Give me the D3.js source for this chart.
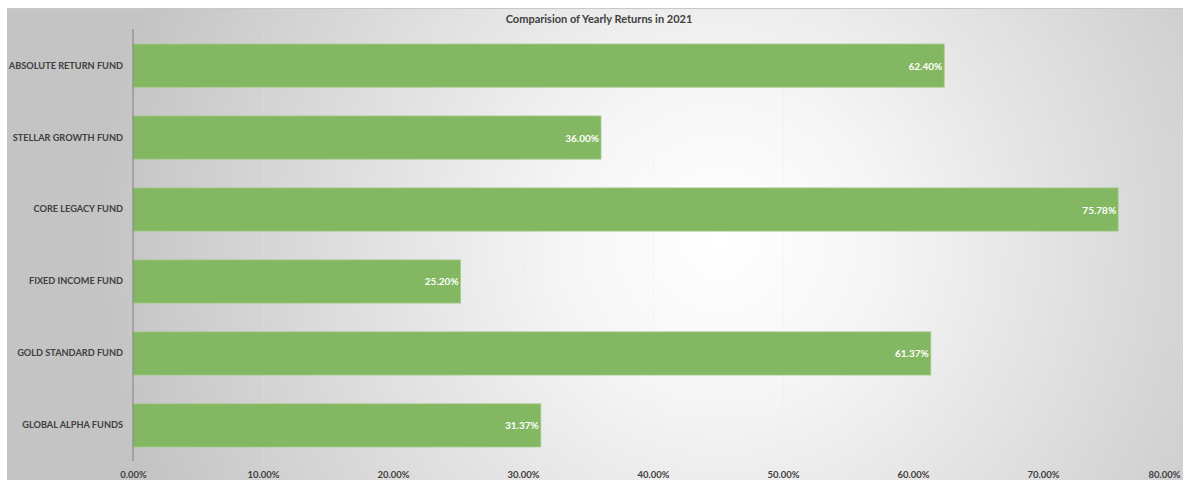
<!DOCTYPE html>
<html>
<head>
<meta charset="utf-8">
<script src="https://cdn.jsdelivr.net/npm/d3@7"></script>
<style>
  body { margin: 0; background: #fff; }
  text { font-family: Lato, "Open Sans", sans-serif; font-weight: bold; }
</style>
</head>
<body>
<div id="chart"></div>
<script>
const funds = ["ABSOLUTE RETURN FUND", "STELLAR GROWTH FUND", "CORE LEGACY FUND",
               "FIXED INCOME FUND", "GOLD STANDARD FUND", "GLOBAL ALPHA FUNDS"];
const returns = [62.40, 36.00, 75.78, 25.20, 61.37, 31.37];
const xTicks = [0, 10, 20, 30, 40, 50, 60, 70, 80];
const title = "Comparision of Yearly Returns in 2021";

const W = 1183, H = 480;

const svg = d3.select("#chart").append("svg")
    .attr("width", W)
    .attr("height", H);

// Background gradient like the spreadsheet chart area
const defs = svg.append("defs");
const grad = defs.append("radialGradient")
    .attr("id", "bg")
    .attr("gradientUnits", "userSpaceOnUse")
    .attr("cx", 720).attr("cy", 240).attr("r", 620);
grad.append("stop").attr("offset", "0%").attr("stop-color", "#ffffff");
grad.append("stop").attr("offset", "25%").attr("stop-color", "#f6f6f6");
grad.append("stop").attr("offset", "100%").attr("stop-color", "#c4c4c4");

svg.append("rect")
    .attr("x", 7).attr("y", 8)
    .attr("width", W - 7).attr("height", H - 8)
    .attr("fill", "url(#bg)");
svg.append("line")
    .attr("x1", 7).attr("x2", W)
    .attr("y1", 8.5).attr("y2", 8.5)
    .attr("stroke", "#c8c8c8");

// Title
svg.append("text")
    .attr("x", 599).attr("y", 23)
    .attr("text-anchor", "middle")
    .attr("font-size", 11)
    .attr("fill", "#404040")
    .text(title);

// Scales
const x = d3.scaleLinear()
    .domain([0, 80])
    .range([133, 1173]);
const y = d3.scaleBand()
    .domain(funds)
    .range([44, 447])
    .paddingInner(0.4)
    .paddingOuter(0);

// Faint vertical grid lines
svg.append("g")
    .selectAll("line")
    .data(xTicks.slice(1))
    .enter().append("line")
    .attr("x1", d => x(d) + 0.5).attr("x2", d => x(d) + 0.5)
    .attr("y1", 29).attr("y2", 461)
    .attr("stroke", "#e8e8e8")
    .attr("stroke-opacity", 0.25);

// Bars
svg.selectAll(".bar")
    .data(funds)
    .enter().append("rect")
    .attr("class", "bar")
    .attr("x", x(0))
    .attr("y", d => y(d))
    .attr("width", (d, i) => x(returns[i]) - x(0))
    .attr("height", y.bandwidth())
    .attr("fill", "#83b762")
    .attr("stroke", "#a6cc8c")
    .attr("stroke-width", 0.8);

// Value labels
svg.selectAll(".val")
    .data(funds)
    .enter().append("text")
    .attr("class", "val")
    .attr("x", (d, i) => x(returns[i]) - 2)
    .attr("y", d => y(d) + y.bandwidth() / 2 + 4)
    .attr("text-anchor", "end")
    .attr("font-size", 10)
    .attr("fill", "#ffffff")
    .text((d, i) => returns[i].toFixed(2) + "%");

// Y axis
const yAxis = svg.append("g")
    .attr("transform", "translate(133,0)")
    .call(d3.axisLeft(y).tickSize(0).tickPadding(10));
yAxis.select(".domain").remove();
yAxis.selectAll("text")
    .attr("font-size", 9.2)
    .attr("fill", "#404040")
    .style("font-family", "Lato, 'Open Sans', sans-serif")
    .style("font-weight", "bold");
svg.append("line")
    .attr("x1", 133).attr("x2", 133)
    .attr("y1", 29).attr("y2", 461)
    .attr("stroke", "#808080")
    .attr("stroke-width", 1);

// X axis
const xAxis = svg.append("g")
    .attr("transform", "translate(0,461)")
    .call(d3.axisBottom(x).tickValues(xTicks).tickSize(0).tickPadding(10)
        .tickFormat(d => d.toFixed(2) + "%"));
xAxis.select(".domain").remove();
xAxis.selectAll("text")
    .attr("font-size", 9.5)
    .attr("fill", "#404040")
    .style("font-family", "Lato, 'Open Sans', sans-serif")
    .style("font-weight", "bold");
xAxis.selectAll(".tick").filter(d => d === 80).select("text")
    .attr("text-anchor", "end")
    .attr("dx", "0.75em");
</script>
</body>
</html>
